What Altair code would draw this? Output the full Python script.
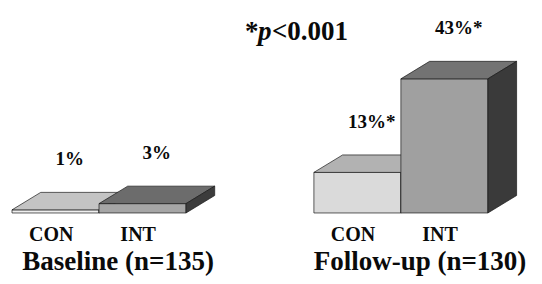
import altair as alt
import pandas as pd

# ---- data ----
groups = ["Baseline (n=135)", "Baseline (n=135)", "Follow-up (n=130)", "Follow-up (n=130)"]
categories = ["CON", "INT", "CON", "INT"]
values = [1, 3, 13, 43]
value_labels = ["1%", "3%", "13%*", "43%*"]
group_titles = ["Baseline (n=135)", "Follow-up (n=130)"]
annotation_parts = ["*", "p", "<0.001"]

# ---- styling ----
bar_ids = ["B-CON", "B-INT", "F-CON", "F-INT"]
front_colors = ["#efefef", "#a6a6a6", "#dadada", "#a0a0a0"]
top_colors = ["#c4c4c4", "#6c6c6c", "#b2b2b2", "#737373"]
side_colors = ["#8a8a8a", "#3c3c3c", "#8a8a8a", "#3a3a3a"]
FONT = "Liberation Serif"
TEXT_COLOR = "#0a0a0a"
GROUP_GAP = 3.47   # group spacing, in bar widths
DX = 0.33          # 3-D depth along x (bar widths)
DY = 5.6           # 3-D depth along y (percentage units)

df = pd.DataFrame({
    "group": groups,
    "cat": categories,
    "value": values,
    "label": value_labels,
    "bar": bar_ids,
    "gi": [group_titles.index(g) for g in groups],
    "ci": [["CON", "INT"].index(c) for c in categories],
})
# two rows per bar (front edge / back edge of the 3-D faces)
faces_df = df.merge(pd.DataFrame({"tv": [0, 1]}), how="cross")
titles_df = pd.DataFrame({"title": group_titles, "gi": list(range(len(group_titles)))})

xs = alt.Scale(domain=[-0.046, 6.0], nice=False, zero=False)
ys = alt.Scale(domain=[-20.2, 65.7], nice=False, zero=False)
STROKE = dict(stroke="#1a1a1a", strokeWidth=0.7)

calc = dict(
    x0=f"datum.gi * {GROUP_GAP} + datum.ci",
    x1=f"datum.gi * {GROUP_GAP} + datum.ci + 1",
    zero="0",
)
base = alt.Chart(df).transform_calculate(**calc)
fbase = alt.Chart(faces_df).transform_calculate(**calc)


def color(rng):
    return alt.Color("bar:N", scale=alt.Scale(domain=bar_ids, range=rng), legend=None)


layers = []
for c in ["CON", "INT"]:
    front = base.transform_filter(alt.datum.cat == c).mark_rect(**STROKE).encode(
        x=alt.X("x0:Q", scale=xs, axis=None),
        x2="x1:Q",
        y=alt.Y("zero:Q", scale=ys, axis=None),
        y2="value:Q",
        color=color(front_colors),
    )
    fb = fbase.transform_filter(alt.datum.cat == c)
    top = fb.transform_calculate(
        ty=f"datum.value + datum.tv * {DY}",
        tx=f"datum.x0 + datum.tv * {DX}",
        tx2=f"datum.x1 + datum.tv * {DX}",
    ).mark_area(orient="horizontal", **STROKE).encode(
        x=alt.X("tx:Q", scale=xs, axis=None),
        x2="tx2:Q",
        y=alt.Y("ty:Q", scale=ys, axis=None),
        detail="bar:N",
        color=color(top_colors),
    )
    side = fb.transform_calculate(
        sx=f"datum.x1 + datum.tv * {DX}",
        sy=f"datum.tv * {DY}",
        sy2=f"datum.value + datum.tv * {DY}",
    ).mark_area(orient="vertical", **STROKE).encode(
        x=alt.X("sx:Q", scale=xs, axis=None),
        y=alt.Y("sy:Q", scale=ys, axis=None),
        y2="sy2:Q",
        detail="bar:N",
        color=color(side_colors),
    )
    layers += [front, top, side]

value_text = base.transform_calculate(
    lx=f"datum.x0 + 0.5 + {DX} / 2",
    ly=f"datum.value + {DY}",
).mark_text(font=FONT, fontWeight="bold", fontSize=19, baseline="middle", dy=-33, color=TEXT_COLOR).encode(
    x=alt.X("lx:Q", scale=xs, axis=None),
    y=alt.Y("ly:Q", scale=ys, axis=None),
    text="label:N",
)

cat_text = base.transform_calculate(
    cx="datum.x0 + 0.45",
    cy="-7.1",
).mark_text(font=FONT, fontWeight="bold", fontSize=20, baseline="middle", color=TEXT_COLOR).encode(
    x=alt.X("cx:Q", scale=xs, axis=None),
    y=alt.Y("cy:Q", scale=ys, axis=None),
    text="cat:N",
)

title_text = alt.Chart(titles_df).transform_calculate(
    tx=f"datum.gi * {GROUP_GAP} + 1.22",
    ty="-18.4",
).mark_text(font=FONT, fontWeight="bold", fontSize=27, baseline="alphabetic", color=TEXT_COLOR).encode(
    x=alt.X("tx:Q", scale=xs, axis=None),
    y=alt.Y("ty:Q", scale=ys, axis=None),
    text="title:N",
)

ann_df = pd.DataFrame({"part": annotation_parts})
ann_layers = []
ann_dx = [0, 13, 27]
ann_style = ["normal", "italic", "normal"]
for i, part in enumerate(annotation_parts):
    ann_layers.append(
        alt.Chart(ann_df).transform_filter(alt.datum.part == part).transform_calculate(
            ax="2.678", ay="57.9"
        ).mark_text(
            font=FONT, fontWeight="bold", fontStyle=ann_style[i], fontSize=27,
            align="left", baseline="middle", dx=ann_dx[i], color=TEXT_COLOR,
        ).encode(
            x=alt.X("ax:Q", scale=xs, axis=None),
            y=alt.Y("ay:Q", scale=ys, axis=None),
            text="part:N",
        )
    )

chart = alt.layer(*layers, value_text, cat_text, title_text, *ann_layers).resolve_scale(
    color="independent"
).properties(
    width=526, height=268, padding=0, autosize="none", background="white"
).configure_view(strokeWidth=0)

chart.save("out.html", embed_options={"renderer": "svg", "actions": False})
